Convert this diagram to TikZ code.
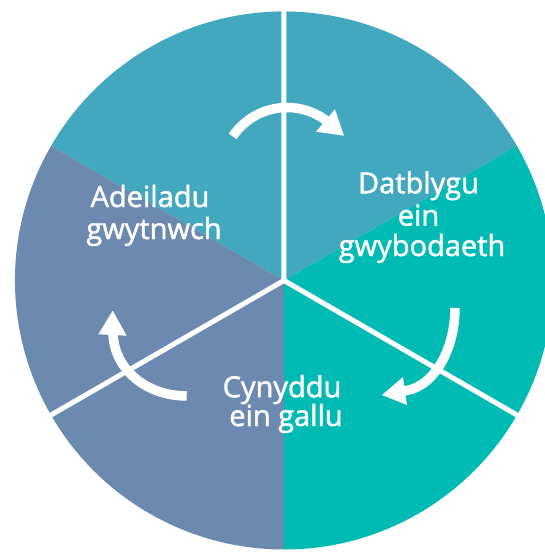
\documentclass[tikz,border=0pt]{standalone}
\usepackage{fontspec}
\setmainfont{Open Sans}
\newfontfamily\lblfont[FakeBold=1.6]{Open Sans}
\definecolor{topblue}{RGB}{66,168,192}
\definecolor{slateblue}{RGB}{108,137,176}
\definecolor{tealgreen}{RGB}{0,187,180}
\begin{document}
\begin{tikzpicture}[x=1pt,y=1pt,
  lbl/.style={text=white, font=\lblfont\fontsize{29}{32}\selectfont, inner sep=0pt, anchor=base},
  divider/.style={white, line width=5pt, line cap=round},
  shaft/.style={white, line width=9.5pt},
  head/.style={fill=white}]
\clip (-284,-271.5) rectangle (261,280.5);
\fill[white] (-284,-271.5) rectangle (261,280.5);
\coordinate (O) at (0,0);
% sectors
\fill[topblue] (O) -- (30:269) arc[start angle=30,end angle=150,radius=269] -- cycle;
\fill[slateblue] (O) -- (150:269) arc[start angle=150,end angle=270,radius=269] -- cycle;
\fill[tealgreen] (O) -- (270:269) arc[start angle=270,end angle=390,radius=269] -- cycle;
% white dividers
\coordinate (e90) at (90:275);
\coordinate (e210) at (210:275);
\coordinate (e330) at (330:275);
\draw[divider] (e90) -- (O) -- (e210);
\draw[divider] (O) -- (e330);
% top arrow
\coordinate (tc) at (3,107.5);
\draw[shaft] ([shift={(tc)}]146:65.5) arc[start angle=146,end angle=52,radius=65.5];
\coordinate (ttip) at (60,144.8);
\coordinate (tb1) at (51,171.2);
\coordinate (tb2) at (32,148.8);
\fill[head] (ttip) -- (tb1) -- (tb2) -- cycle;
% right arrow
\coordinate (rs) at (171,-27.5);
\coordinate (re) at (117,-110.5);
\draw[shaft] (rs) .. controls (171,-73.3) and (146,-110.5) .. (re);
\coordinate (rtip) at (98,-114.5);
\coordinate (rb1) at (119,-96.5);
\coordinate (rb2) at (123,-124.5);
\fill[head] (rtip) -- (rb1) -- (rb2) -- cycle;
% left arrow
\coordinate (ls) at (-97.3,-115.5);
\coordinate (le) at (-171,-51);
\draw[shaft] (ls) .. controls (-138,-115.5) and (-171,-88.2) .. (le);
\coordinate (ltip) at (-171.3,-30.2);
\coordinate (lb1) at (-185.7,-53.8);
\coordinate (lb2) at (-157.3,-55.2);
\fill[head] (ltip) -- (lb1) -- (lb2) -- cycle;
% labels
\node[lbl] (a1) at (-134,73.5) {Adeiladu};
\node[lbl] (a2) at (-130,41.5) {gwytnwch};
\node[lbl] (d1) at (134.5,87.2) {Datblygu};
\node[lbl] (d2) at (134.5,54.8) {ein};
\node[lbl] (d3) at (138,24.5) {gwybodaeth};
\node[lbl] (c1) at (-2,-116.7) {Cynyddu};
\node[lbl] (c2) at (2,-145.5) {ein gallu};
\end{tikzpicture}
\end{document}
